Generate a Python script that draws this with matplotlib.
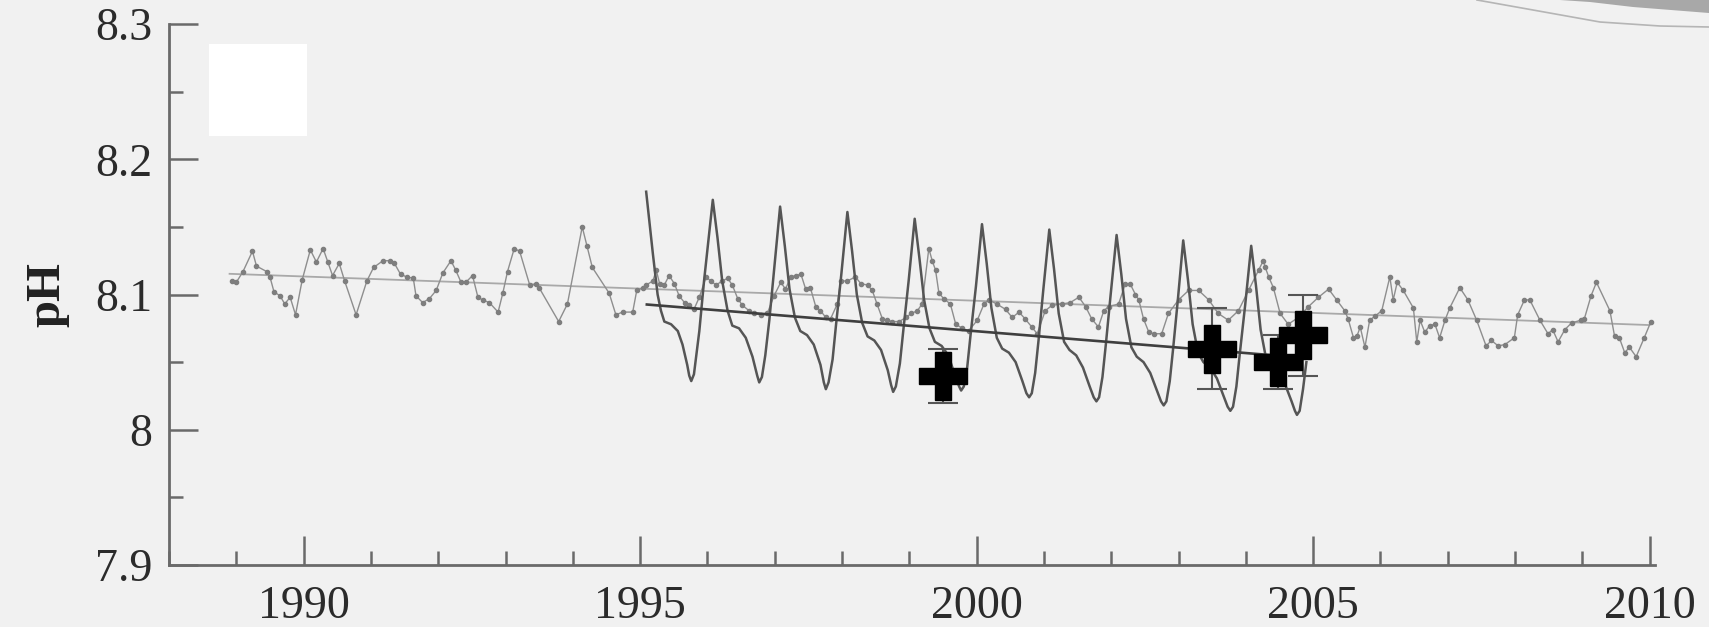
import matplotlib
matplotlib.use("Agg")
import matplotlib.pyplot as plt
from matplotlib.ticker import MultipleLocator, FuncFormatter
from matplotlib.patches import Rectangle, Polygon
from matplotlib.lines import Line2D

# long gray record with dots, 1988.9-2010
gray_years = [
    1988.93, 1989.00, 1989.10, 1989.24, 1989.30, 1989.45, 1989.50, 1989.56, 1989.65, 1989.72,
    1989.80, 1989.88, 1989.98, 1990.10, 1990.19, 1990.29, 1990.36, 1990.43, 1990.53, 1990.61,
    1990.78, 1990.94, 1991.04, 1991.18, 1991.28, 1991.35, 1991.44, 1991.53, 1991.63, 1991.67,
    1991.77, 1991.87, 1991.97, 1992.07, 1992.19, 1992.26, 1992.34, 1992.41, 1992.51, 1992.59,
    1992.66, 1992.76, 1992.89, 1992.96, 1993.03, 1993.13, 1993.21, 1993.36, 1993.46, 1993.50,
    1993.79, 1993.92, 1994.14, 1994.21, 1994.29, 1994.54, 1994.64, 1994.74, 1994.89, 1994.95,
    1995.04, 1995.09, 1995.19, 1995.24, 1995.29, 1995.36, 1995.43, 1995.51, 1995.58, 1995.66,
    1995.73, 1995.80, 1995.88, 1995.98, 1996.05, 1996.13, 1996.22, 1996.30, 1996.37, 1996.45,
    1996.52, 1996.62, 1996.69, 1996.79, 1996.89, 1996.99, 1997.09, 1997.16, 1997.24, 1997.31,
    1997.39, 1997.46, 1997.53, 1997.61, 1997.68, 1997.76, 1997.83, 1997.93, 1997.98, 1998.08,
    1998.20, 1998.28, 1998.38, 1998.45, 1998.52, 1998.60, 1998.67, 1998.75, 1998.85, 1998.95,
    1999.03, 1999.12, 1999.19, 1999.29, 1999.34, 1999.39, 1999.44, 1999.51, 1999.61, 1999.69,
    1999.79, 1999.88, 2000.01, 2000.11, 2000.18, 2000.30, 2000.43, 2000.53, 2000.63, 2000.72,
    2000.82, 2000.90, 2001.02, 2001.12, 2001.27, 2001.39, 2001.52, 2001.62, 2001.71, 2001.81,
    2001.89, 2001.96, 2002.11, 2002.21, 2002.28, 2002.36, 2002.41, 2002.48, 2002.56, 2002.63,
    2002.75, 2002.85, 2003.00, 2003.15, 2003.30, 2003.45, 2003.59, 2003.74, 2003.89, 2004.04,
    2004.19, 2004.26, 2004.29, 2004.34, 2004.41, 2004.51, 2004.63, 2004.78, 2004.93, 2005.08,
    2005.23, 2005.35, 2005.47, 2005.52, 2005.60, 2005.65, 2005.70, 2005.77, 2005.84, 2005.92,
    2006.02, 2006.14, 2006.19, 2006.25, 2006.34, 2006.49, 2006.54, 2006.59, 2006.66, 2006.73,
    2006.81, 2006.88, 2006.96, 2007.03, 2007.18, 2007.30, 2007.43, 2007.57, 2007.65, 2007.75,
    2007.85, 2007.99, 2008.04, 2008.14, 2008.22, 2008.37, 2008.49, 2008.56, 2008.64, 2008.74,
    2008.84, 2008.98, 2009.03, 2009.13, 2009.21, 2009.41, 2009.48, 2009.55, 2009.63, 2009.70,
    2009.80, 2009.92, 2010.02,
]
gray_ph = [
    8.110, 8.109, 8.117, 8.132, 8.121, 8.117, 8.113, 8.102, 8.099, 8.093,
    8.098, 8.085, 8.111, 8.133, 8.124, 8.134, 8.124, 8.114, 8.123, 8.110,
    8.085, 8.110, 8.120, 8.125, 8.125, 8.123, 8.115, 8.113, 8.112, 8.099,
    8.094, 8.097, 8.103, 8.116, 8.125, 8.118, 8.109, 8.109, 8.114, 8.098,
    8.096, 8.094, 8.087, 8.101, 8.117, 8.134, 8.132, 8.107, 8.108, 8.105,
    8.080, 8.093, 8.150, 8.136, 8.120, 8.101, 8.085, 8.087, 8.087, 8.103,
    8.105, 8.107, 8.110, 8.118, 8.108, 8.107, 8.114, 8.108, 8.099, 8.094,
    8.092, 8.089, 8.098, 8.113, 8.110, 8.107, 8.110, 8.112, 8.107, 8.097,
    8.092, 8.088, 8.086, 8.085, 8.086, 8.099, 8.109, 8.104, 8.113, 8.114,
    8.115, 8.104, 8.105, 8.091, 8.088, 8.083, 8.082, 8.093, 8.110, 8.110,
    8.113, 8.108, 8.107, 8.103, 8.093, 8.082, 8.081, 8.080, 8.080, 8.083,
    8.086, 8.088, 8.093, 8.134, 8.125, 8.118, 8.101, 8.097, 8.093, 8.078,
    8.075, 8.073, 8.081, 8.093, 8.096, 8.093, 8.089, 8.083, 8.087, 8.082,
    8.076, 8.071, 8.088, 8.092, 8.093, 8.094, 8.098, 8.091, 8.082, 8.076,
    8.088, 8.091, 8.093, 8.108, 8.108, 8.100, 8.096, 8.082, 8.072, 8.071,
    8.071, 8.086, 8.096, 8.103, 8.103, 8.096, 8.086, 8.081, 8.088, 8.103,
    8.118, 8.125, 8.120, 8.113, 8.105, 8.086, 8.078, 8.083, 8.091, 8.098,
    8.104, 8.096, 8.088, 8.082, 8.068, 8.069, 8.076, 8.061, 8.081, 8.084,
    8.088, 8.113, 8.096, 8.109, 8.103, 8.090, 8.065, 8.081, 8.072, 8.077,
    8.078, 8.068, 8.081, 8.090, 8.105, 8.096, 8.081, 8.062, 8.066, 8.062,
    8.063, 8.068, 8.085, 8.096, 8.096, 8.081, 8.071, 8.074, 8.065, 8.074,
    8.079, 8.081, 8.082, 8.099, 8.109, 8.088, 8.069, 8.068, 8.057, 8.061,
    8.054, 8.068, 8.080,
]
gray_trend_years = [1988.9, 2010.0]
gray_trend_ph = [8.1153, 8.0774]

# dark record with strong seasonal cycle, 1995-2005
dark_years = [
    1995.09, 1995.19, 1995.26, 1995.31, 1995.36, 1995.46, 1995.56, 1995.63, 1995.70, 1995.73,
    1995.76, 1995.80, 1995.88, 1995.95, 1996.03, 1996.08, 1996.15, 1996.22, 1996.30, 1996.37,
    1996.47, 1996.57, 1996.67, 1996.74, 1996.77, 1996.81, 1996.86, 1996.92, 1996.99, 1997.08,
    1997.15, 1997.22, 1997.30, 1997.38, 1997.48, 1997.58, 1997.68, 1997.73, 1997.76, 1997.80,
    1997.86, 1997.91, 1997.99, 1998.08, 1998.15, 1998.22, 1998.30, 1998.38, 1998.48, 1998.58,
    1998.68, 1998.73, 1998.76, 1998.80, 1998.86, 1998.91, 1998.99, 1999.08, 1999.15, 1999.22,
    1999.30, 1999.38, 1999.48, 1999.58, 1999.68, 1999.74, 1999.77, 1999.81, 1999.86, 1999.91,
    1999.99, 2000.08, 2000.15, 2000.22, 2000.30, 2000.38, 2000.48, 2000.58, 2000.68, 2000.74,
    2000.78, 2000.82, 2000.87, 2000.92, 2000.99, 2001.08, 2001.15, 2001.22, 2001.30, 2001.38,
    2001.48, 2001.58, 2001.68, 2001.74, 2001.78, 2001.82, 2001.87, 2001.92, 2001.99, 2002.08,
    2002.15, 2002.22, 2002.30, 2002.38, 2002.48, 2002.58, 2002.68, 2002.74, 2002.78, 2002.82,
    2002.87, 2002.92, 2002.99, 2003.07, 2003.14, 2003.21, 2003.29, 2003.37, 2003.47, 2003.57,
    2003.67, 2003.73, 2003.77, 2003.81, 2003.86, 2003.91, 2003.99, 2004.08, 2004.15, 2004.22,
    2004.30, 2004.38, 2004.48, 2004.58, 2004.68, 2004.73, 2004.76, 2004.80, 2004.85, 2004.90,
]
dark_ph = [
    8.176, 8.130, 8.100, 8.088, 8.080, 8.078, 8.073, 8.063, 8.048, 8.040,
    8.036, 8.041, 8.073, 8.110, 8.147, 8.170, 8.142, 8.110, 8.088, 8.077,
    8.075, 8.068, 8.054, 8.040, 8.035, 8.039, 8.055, 8.081, 8.118, 8.165,
    8.136, 8.104, 8.083, 8.073, 8.070, 8.063, 8.048, 8.035, 8.030, 8.035,
    8.052, 8.077, 8.115, 8.161, 8.132, 8.100, 8.079, 8.069, 8.066, 8.059,
    8.044, 8.033, 8.028, 8.032, 8.049, 8.073, 8.110, 8.156, 8.127, 8.096,
    8.075, 8.065, 8.062, 8.055, 8.040, 8.032, 8.029, 8.032, 8.046, 8.070,
    8.106, 8.152, 8.123, 8.090, 8.068, 8.060, 8.057, 8.050, 8.036, 8.027,
    8.024, 8.027, 8.042, 8.066, 8.103, 8.148, 8.119, 8.086, 8.065, 8.059,
    8.055, 8.046, 8.032, 8.024, 8.021, 8.024, 8.039, 8.063, 8.099, 8.144,
    8.115, 8.082, 8.061, 8.054, 8.050, 8.042, 8.029, 8.021, 8.018, 8.021,
    8.036, 8.060, 8.096, 8.140, 8.111, 8.078, 8.057, 8.050, 8.046, 8.038,
    8.025, 8.017, 8.014, 8.017, 8.032, 8.056, 8.092, 8.136, 8.107, 8.074,
    8.053, 8.046, 8.042, 8.034, 8.021, 8.014, 8.011, 8.014, 8.030, 8.050,
]
dark_trend_years = [1995.1, 2004.4]
dark_trend_ph = [8.0926, 8.0551]

# individual measurements with error bars
cross_years = [1999.5, 2003.5, 2004.48, 2004.85]
cross_ph = [8.04, 8.06, 8.05, 8.07]
cross_err = [0.02, 0.03, 0.02, 0.03]

W, H = 1709, 627
fig = plt.figure(figsize=(W / 100, H / 100), dpi=100)
fig.patch.set_facecolor("#f1f1f1")

# slide decoration, top right
fig.add_artist(Polygon([(1560 / W, 1), (1709 / W, 1), (1709 / W, 1 - 13 / H),
                        (1633 / W, 1 - 7 / H), (1590 / W, 1 - 2 / H)],
                       closed=True, transform=fig.transFigure,
                       facecolor="#a8a8a8", edgecolor="none"))
sx = [1477, 1533, 1600, 1660, 1709]
sy = [0, 10, 22, 26, 27]
fig.add_artist(Line2D([x / W for x in sx], [1 - y / H for y in sy],
                      transform=fig.transFigure, color="#b5b5b5", lw=1.2))

ax = fig.add_axes([169 / W, 1 - 565 / H, (1655 - 169) / W, (565 - 24) / H])
ax.patch.set_alpha(0)

ax.plot(gray_trend_years, gray_trend_ph, color="#a9a9a9", lw=1.3, zorder=2)
ax.plot(gray_years, gray_ph, color="#8e8e8e", lw=1.0, marker="o", ms=3,
        mfc="#7e7e7e", mec="#7e7e7e", zorder=3)
ax.plot(dark_years, dark_ph, color="#555555", lw=1.8, zorder=4)
ax.plot(dark_trend_years, dark_trend_ph, color="#3f3f3f", lw=1.9, zorder=5)
ax.errorbar(cross_years, cross_ph, yerr=cross_err, fmt="none", ecolor="#555555",
            elinewidth=1.5, capsize=11, capthick=1.5, zorder=6)
ax.plot(cross_years, cross_ph, linestyle="none", marker="P", ms=34,
        color="black", mec="black", zorder=7)

ax.set_xlim(1988.0, 2010.08)
ax.set_ylim(7.9, 8.3)
ax.set_xticks([1990, 1995, 2000, 2005, 2010])
ax.xaxis.set_minor_locator(MultipleLocator(1))
ax.set_yticks([7.9, 8.0, 8.1, 8.2, 8.3])
ax.yaxis.set_minor_locator(MultipleLocator(0.05))
ax.yaxis.set_major_formatter(FuncFormatter(lambda v, p: f"{v:g}"))

for s in ["top", "right"]:
    ax.spines[s].set_visible(False)
for s in ["left", "bottom"]:
    ax.spines[s].set_color("#6a6a6a")
    ax.spines[s].set_linewidth(2)

ax.tick_params(which="major", direction="in", length=21, width=1.8, color="#6a6a6a")
ax.tick_params(which="minor", direction="in", length=10, width=1.8, color="#6a6a6a")
ax.tick_params(axis="x", which="major", pad=15)
ax.tick_params(axis="y", which="major", pad=12)
for lab in ax.get_xticklabels() + ax.get_yticklabels():
    lab.set_fontfamily("Liberation Serif")
    lab.set_fontsize(33)
    lab.set_color("#2b2b2b")

ax.set_ylabel("pH", fontfamily="Liberation Serif", fontweight="bold",
              fontsize=35, color="#222222", va="center")
ax.yaxis.set_label_coords((47 - 169) / (1655 - 169), 0.5)

# white box covering the legend area
fig.add_artist(Rectangle((209 / W, 1 - 136 / H), 98 / W, 92 / H,
                         transform=fig.transFigure, facecolor="white",
                         edgecolor="none"))

fig.savefig("out.png", dpi=100, facecolor=fig.get_facecolor())
